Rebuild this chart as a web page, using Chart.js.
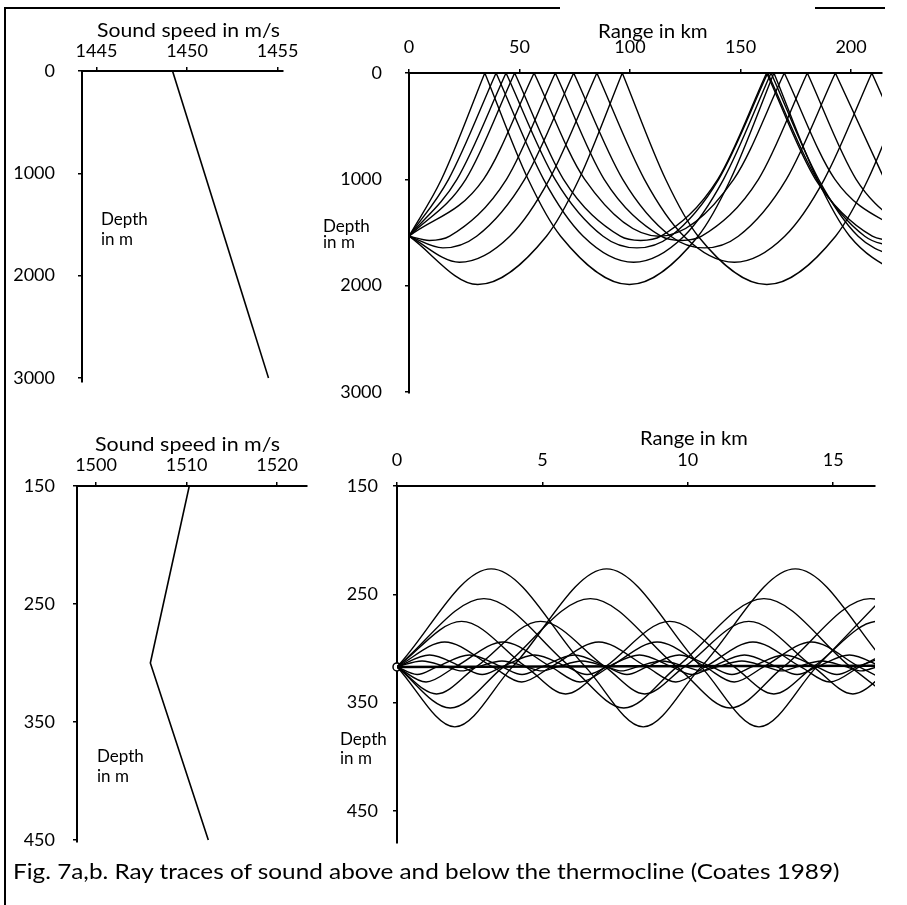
<!DOCTYPE html>
<html lang="en">
<head>
<meta charset="UTF-8" />
<title>Ray traces of sound above and below the thermocline</title>
<script src="https://cdn.jsdelivr.net/npm/chart.js"></script>
<style>
  body { margin: 0; background: #fff; }
  #page { position: relative; width: 907px; height: 905px; overflow: hidden; background: #fff;
          font-family: Lato, "DejaVu Sans", sans-serif; color: #000; }
  #page canvas { position: absolute; }
  .lbl { position: absolute; white-space: nowrap; line-height: 1; }
  .ttl { font-size: 19px; transform-origin: 0 50%; }
  .dep { font-size: 17px; }
  .frame { position: absolute; background: #000; }
</style>
</head>
<body>
<div id="page">
  <div class="frame" style="left:4px; top:7px; width:2px; height:898px"></div>
  <div class="frame" style="left:4px; top:7px; width:556px; height:2px"></div>
  <div class="frame" style="left:815px; top:7px; width:70px; height:2px"></div>

  <canvas id="speedTop"></canvas>
  <canvas id="raysTop"></canvas>
  <canvas id="speedBot"></canvas>
  <canvas id="raysBot"></canvas>

  <!-- axis titles, fitted to the widths measured on the original -->
  <div class="lbl ttl" data-cx="188" data-cy="29" data-w="183">Sound speed in m/s</div>
  <div class="lbl ttl" data-cx="653" data-cy="30" data-w="110">Range in km</div>
  <div class="lbl ttl" data-cx="187" data-cy="443" data-w="185">Sound speed in m/s</div>
  <div class="lbl ttl" data-cx="694" data-cy="437" data-w="108">Range in km</div>

  <div class="lbl dep" style="left:101px; top:209px; line-height:20px">Depth<br>in m</div>
  <div class="lbl dep" style="left:323px; top:218px; line-height:16px">Depth<br>in m</div>
  <div class="lbl dep" style="left:97px; top:746px; line-height:20px">Depth<br>in m</div>
  <div class="lbl dep" style="left:340px; top:729px; line-height:19px">Depth<br>in m</div>

  <div class="lbl ttl" id="caption" style="font-size:21px" data-cx="426" data-cy="870" data-w="827">Fig. 7a,b. Ray traces of sound above and below the thermocline (Coates 1989)</div>
</div>

<script>
  // ---- sound speed profiles (speed m/s, depth m) ----
  const speedTopSpeed = [1449.2, 1454.5];
  const speedTopDepth = [0, 3000];
  const speedBotSpeed = [1510.3, 1506.0, 1512.4];
  const speedBotDepth = [150, 300, 450];

  // ---- tick labels ----
  const speedTopTicks = [1445, 1450, 1455];
  const depthTopTicks = [0, 1000, 2000, 3000];
  const rangeTopTicks = [0, 50, 100, 150, 200];
  const speedBotTicks = [1500, 1510, 1520];
  const depthBotTicks = [150, 250, 350, 450];
  const rangeBotTicks = [0, 5, 10, 15];

  // ---- rays above the thermocline (range km, depth m); null = surface reflection ----
  const ray1UpR = [0, 14.7, 34.3, 34.3, 34.3, 53.9, 68.6, 99.7, 130.8, 145.5, 165.1, 165.1, 165.1, 184.7, 199.4, 230.5];
  const ray1UpZ = [1535, 1000, 0, null, 0, 1000, 1535, 1990, 1535, 1000, 0, null, 0, 1000, 1535, 1990];
  const ray1DnR = [0, 31.1, 62.2, 76.9, 96.5, 96.5, 96.5, 116.1, 130.8, 161.9, 193.0, 207.7, 227.3];
  const ray1DnZ = [1535, 1990, 1535, 1000, 0, null, 0, 1000, 1535, 1990, 1535, 1000, 0];
  const ray2UpR = [0, 17.9, 39.4, 39.4, 39.4, 60.9, 78.8, 101.6, 124.4, 142.3, 163.8, 163.8, 163.8, 185.3, 203.2, 226.0];
  const ray2UpZ = [1535, 1000, 0, null, 0, 1000, 1535, 1780, 1535, 1000, 0, null, 0, 1000, 1535, 1780];
  const ray2DnR = [0, 22.8, 45.6, 63.5, 85.0, 85.0, 85.0, 106.5, 124.4, 147.2, 170.0, 187.9, 209.4, 209.4, 209.4, 230.9];
  const ray2DnZ = [1535, 1780, 1535, 1000, 0, null, 0, 1000, 1535, 1780, 1535, 1000, 0, null, 0, 1000];
  const ray3UpR = [0, 21.7, 43.9, 43.9, 43.9, 66.1, 87.8, 103.1, 118.4, 140.1, 162.3, 162.3, 162.3, 184.5, 206.2, 221.5];
  const ray3UpZ = [1535, 1000, 0, null, 0, 1000, 1535, 1645, 1535, 1000, 0, null, 0, 1000, 1535, 1645];
  const ray3DnR = [0, 15.3, 30.6, 52.3, 74.5, 74.5, 74.5, 96.7, 118.4, 133.7, 149.0, 170.7, 192.9, 192.9, 192.9, 215.1];
  const ray3DnZ = [1535, 1645, 1535, 1000, 0, null, 0, 1000, 1535, 1645, 1535, 1000, 0, null, 0, 1000];
  const ray4UpR = [0, 25.7, 47.8, 47.8, 47.8, 69.9, 95.6, 104.8, 114.0, 139.7, 161.8, 161.8, 161.8, 183.9, 209.6, 218.8];
  const ray4UpZ = [1535, 1000, 0, null, 0, 1000, 1535, 1575, 1535, 1000, 0, null, 0, 1000, 1535, 1575];
  const ray4DnR = [0, 9.2, 18.4, 44.1, 66.2, 66.2, 66.2, 88.3, 114.0, 123.2, 132.4, 158.1, 180.2, 180.2, 180.2, 202.3, 228.0];
  const ray4DnZ = [1535, 1575, 1535, 1000, 0, null, 0, 1000, 1535, 1575, 1535, 1000, 0, null, 0, 1000, 1535];
  const ray5R = [0, 33.7, 56.6, 56.6, 56.6, 79.5, 113.2, 146.9, 169.8, 169.8, 169.8, 192.7, 226.4];
  const ray5Z = [1535, 1000, 0, null, 0, 1000, 1535, 1000, 0, null, 0, 1000, 1535];

  // ---- rays below the thermocline (range km, depth m), channel axis at 317 m ----
  const chAUpR = [0, 3.24, 6.48, 8.47, 10.46, 13.70, 16.94, 18.93];
  const chAUpZ = [317, 226.5, 317, 372.4, 317, 226.5, 317, 372.4];
  const chADnR = [0, 1.99, 3.97, 7.21, 10.46, 12.45, 14.43, 17.67];
  const chADnZ = [317, 372.4, 317, 226.5, 317, 372.4, 317, 226.5];
  const chBUpR = [0, 2.99, 5.97, 7.80, 9.63, 12.62, 15.60, 17.43];
  const chBUpZ = [317, 254, 317, 355, 317, 254, 317, 355];
  const chBDnR = [0, 1.83, 3.66, 6.65, 9.63, 11.46, 13.29, 16.28, 19.26];
  const chBDnZ = [317, 355, 317, 254, 317, 355, 317, 254, 317];
  const chCUpR = [0, 2.22, 4.44, 5.80, 7.16, 9.38, 11.60, 12.96, 14.32, 16.54, 18.76];
  const chCUpZ = [317, 275, 317, 342, 317, 275, 317, 342, 317, 275, 317];
  const chCDnR = [0, 1.36, 2.72, 4.94, 7.16, 8.52, 9.88, 12.10, 14.32, 15.68, 17.04];
  const chCDnZ = [317, 342, 317, 275, 317, 342, 317, 275, 317, 342, 317];
  const chDUpR = [0, 1.64, 3.29, 4.29, 5.30, 6.94, 8.59, 9.59, 10.60, 12.24, 13.89, 14.89, 15.90, 17.54];
  const chDUpZ = [317, 294, 317, 331, 317, 294, 317, 331, 317, 294, 317, 331, 317, 294];
  const chDDnR = [0, 1.00, 2.01, 3.65, 5.30, 6.30, 7.31, 8.95, 10.60, 11.60, 12.61, 14.25, 15.90, 16.90];
  const chDDnZ = [317, 331, 317, 294, 317, 331, 317, 294, 317, 331, 317, 294, 317, 331];
  const chEUpR = [0, 1.12, 2.24, 2.93, 3.61, 4.73, 5.85, 6.54, 7.22, 8.34, 9.46, 10.15, 10.83, 11.95, 13.07, 13.76, 14.44, 15.56, 16.68, 17.37];
  const chEUpZ = [317, 306, 317, 324, 317, 306, 317, 324, 317, 306, 317, 324, 317, 306, 317, 324, 317, 306, 317, 324];
  const chEDnR = [0, 0.69, 1.37, 2.49, 3.61, 4.30, 4.98, 6.10, 7.22, 7.91, 8.59, 9.71, 10.83, 11.52, 12.20, 13.32, 14.44, 15.13, 15.81, 16.93];
  const chEDnZ = [317, 324, 317, 306, 317, 324, 317, 306, 317, 324, 317, 306, 317, 324, 317, 306, 317, 324, 317, 306];
  const chFR = [0, 0.86, 1.71, 2.23, 2.75, 3.61, 4.46, 4.98, 5.50, 6.36, 7.21, 7.73, 8.25, 9.11, 9.96, 10.48, 11.00, 11.86, 12.71, 13.23, 13.75, 14.61, 15.46, 15.98, 16.50];
  const chFZ = [317, 311.5, 317, 320.7, 317, 311.5, 317, 320.7, 317, 311.5, 317, 320.7, 317, 311.5, 317, 320.7, 317, 311.5, 317, 320.7, 317, 311.5, 317, 320.7, 317];
  const chAxisR = [0, 16.5];
  const chAxisZ = [317, 316];
  const sourceBot = [0, 317];

  const FONT = 'Lato, "DejaVu Sans", sans-serif';

  function ray(xs, zs, width) {
    return {
      data: xs.map((x, i) => ({ x: x, y: zs[i] })),
      borderColor: '#000',
      borderWidth: width || 1.4,
      pointRadius: 0,
      cubicInterpolationMode: 'monotone',
      spanGaps: false,
      fill: false
    };
  }

  function profile(xs, zs) {
    return {
      data: xs.map((x, i) => ({ x: x, y: zs[i] })),
      borderColor: '#000',
      borderWidth: 1.6,
      pointRadius: 0,
      tension: 0,
      fill: false
    };
  }

  // box = plot area in page pixels; the canvas gets room around it for labels
  function panel(id, box, xRange, yRange, xTicks, yTicks, xPad, yPad, datasets) {
    const canvas = document.getElementById(id);
    const L = Math.max(0, box.l - 82), T = box.t - 60, R = box.r + 30, B = box.b + yPad + 16;
    canvas.width = R - L;
    canvas.height = B - T;
    canvas.style.left = L + 'px';
    canvas.style.top = T + 'px';
    const tickFont = { family: FONT, size: 18 };
    new Chart(canvas, {
      type: 'line',
      data: { datasets: datasets },
      options: {
        responsive: false,
        animation: false,
        events: [],
        layout: { padding: { left: 0, top: 0, right: R - box.r, bottom: B - box.b } },
        plugins: { legend: { display: false }, tooltip: { enabled: false } },
        scales: {
          x: {
            type: 'linear', position: 'top', min: xRange[0], max: xRange[1],
            afterFit: s => { s.height = box.t - T; },
            afterBuildTicks: s => { s.ticks = xTicks.map(v => ({ value: v })); },
            grid: { drawOnChartArea: false, tickLength: 4, color: '#000', lineWidth: 1.5 },
            border: { color: '#000', width: 2 },
            ticks: { color: '#000', font: tickFont, padding: xPad, maxRotation: 0, autoSkip: false, callback: v => String(v) }
          },
          y: {
            type: 'linear', reverse: true, min: yRange[0], max: yRange[1],
            afterFit: s => { s.width = box.l - L; },
            afterBuildTicks: s => { s.ticks = yTicks.map(v => ({ value: v })); },
            grid: { drawOnChartArea: false, tickLength: 4, color: '#000', lineWidth: 1.5 },
            border: { color: '#000', width: 2 },
            ticks: { color: '#000', font: tickFont, padding: yPad, autoSkip: false, callback: v => String(v) }
          }
        }
      }
    });
  }

  panel('speedTop', { l: 82, t: 71, r: 283, b: 382 }, [1444.2, 1455.3], [0, 3039],
        speedTopTicks, depthTopTicks, 5, 23,
        [profile(speedTopSpeed, speedTopDepth)]);

  panel('raysTop', { l: 409, t: 73, r: 882, b: 393 }, [0, 214], [0, 3010],
        rangeTopTicks, depthTopTicks, 11, 23,
        [ray(ray1UpR, ray1UpZ), ray(ray1DnR, ray1DnZ), ray(ray2UpR, ray2UpZ), ray(ray2DnR, ray2DnZ),
         ray(ray3UpR, ray3UpZ), ray(ray3DnR, ray3DnZ), ray(ray4UpR, ray4UpZ), ray(ray4DnR, ray4DnZ),
         ray(ray5R, ray5Z)]);

  panel('speedBot', { l: 77, t: 486, r: 307, b: 842 }, [1497.9, 1523.3], [150, 451.7],
        speedBotTicks, depthBotTicks, 6, 18,
        [profile(speedBotSpeed, speedBotDepth)]);

  const src = {
    data: [{ x: sourceBot[0], y: sourceBot[1] }],
    showLine: false, pointRadius: 4, pointBackgroundColor: '#fff',
    pointBorderColor: '#000', pointBorderWidth: 1.5, clip: false
  };
  panel('raysBot', { l: 397, t: 486, r: 875, b: 843 }, [0, 16.44], [150, 479.6],
        rangeBotTicks, depthBotTicks, 11, 15,
        [ray(chAUpR, chAUpZ), ray(chADnR, chADnZ), ray(chBUpR, chBUpZ), ray(chBDnR, chBDnZ),
         ray(chCUpR, chCUpZ), ray(chCDnR, chCDnZ), ray(chDUpR, chDUpZ), ray(chDDnR, chDDnZ),
         ray(chEUpR, chEUpZ), ray(chEDnR, chEDnZ), ray(chFR, chFZ), ray(chAxisR, chAxisZ, 2.5), src]);

  // place the text labels: centre them and stretch to the measured widths
  document.querySelectorAll('.ttl').forEach(el => {
    const w = el.offsetWidth, h = el.offsetHeight;
    const k = (+el.dataset.w) / w;
    el.style.left = (+el.dataset.cx - w * k / 2) + 'px';
    el.style.top = (+el.dataset.cy - h / 2) + 'px';
    el.style.transform = 'scaleX(' + k + ')';
  });
</script>
</body>
</html>
